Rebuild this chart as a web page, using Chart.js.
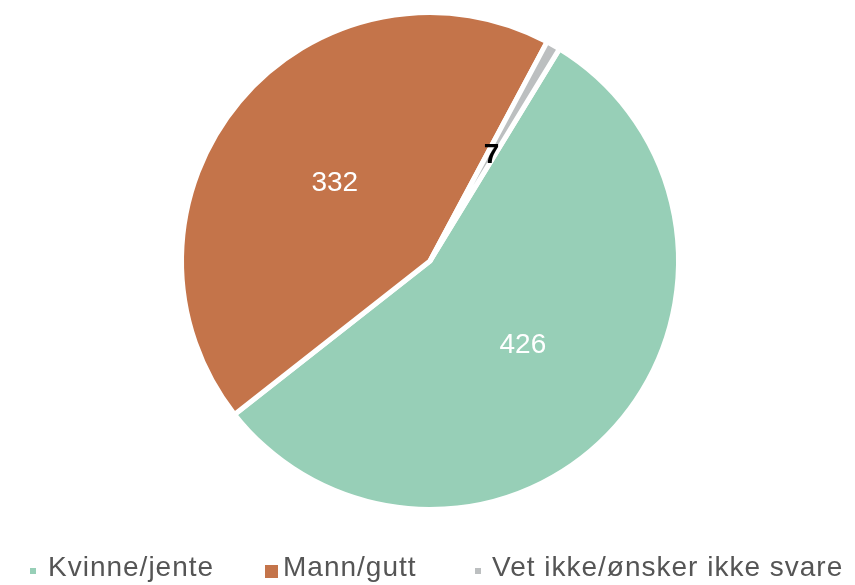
<!DOCTYPE html>
<html>
<head>
<meta charset="utf-8">
<script src="https://cdn.jsdelivr.net/npm/chart.js@4"></script>
<style>
  html, body { margin: 0; padding: 0; background: #fff; }
  #wrap { width: 855px; height: 585px; position: relative; }
  #chart { position: absolute; left: 0; top: 0; }
  .lg-box { position: absolute; }
  .lg-text {
    position: absolute; top: 550px; line-height: 34px; white-space: nowrap;
    font-family: "Liberation Sans", Arial, sans-serif; font-size: 28px;
    color: #555555; letter-spacing: 1px;
  }
</style>
</head>
<body>
<div id="wrap">
  <canvas id="chart" width="855" height="585"></canvas>
  <div id="legend"></div>
</div>
<script>
const labels = ['Kvinne/jente', 'Mann/gutt', 'Vet ikke/ønsker ikke svare'];
const values = [426, 332, 7];
const colors = ['#97cfb7', '#c4744a', '#bcbfc0'];
const labelColors = ['#ffffff', '#ffffff', '#000000'];

// skriver tallene inne i kakestykkene
const valueLabels = {
    id: 'valueLabels',
    afterDatasetsDraw(chart) {
        const ctx = chart.ctx;
        const meta = chart.getDatasetMeta(0);
        ctx.save();
        ctx.textAlign = 'center';
        ctx.textBaseline = 'middle';
        meta.data.forEach((arc, i) => {
            const mid = (arc.startAngle + arc.endAngle) / 2;
            const r = arc.outerRadius * 0.5;
            ctx.font = (i === 2 ? '600 ' : '') + '28px "Liberation Sans", Arial, sans-serif';
            ctx.fillStyle = labelColors[i];
            ctx.fillText(values[i], arc.x + Math.cos(mid) * r, arc.y + Math.sin(mid) * r + 2);
        });
        ctx.restore();
    }
};

new Chart(document.getElementById('chart'), {
    type: 'pie',
    data: {
        labels: labels,
        datasets: [{
            data: values,
            backgroundColor: colors,
            borderColor: '#ffffff',
            borderWidth: 5
        }]
    },
    options: {
        responsive: false,
        animation: false,
        rotation: 31.4,
        layout: { padding: { top: 10, bottom: 73, left: 5, right: 0 } },
        plugins: {
            tooltip: { enabled: false },
            legend: { display: false }
        }
    },
    plugins: [valueLabels]
});

// egen legend under kaka
const legendPos = [
    { box: 30, size: 6, text: 48 },
    { box: 265, size: 13, text: 283 },
    { box: 475, size: 6, text: 492 }
];
const legend = document.getElementById('legend');
labels.forEach((label, i) => {
    const p = legendPos[i];
    const box = document.createElement('div');
    box.className = 'lg-box';
    box.style.cssText = `left:${p.box}px;top:${571 - p.size / 2}px;width:${p.size}px;height:${p.size}px;background:${colors[i]}`;
    legend.appendChild(box);
    const span = document.createElement('span');
    span.className = 'lg-text';
    span.style.left = p.text + 'px';
    span.textContent = label;
    legend.appendChild(span);
});
</script>
</body>
</html>
